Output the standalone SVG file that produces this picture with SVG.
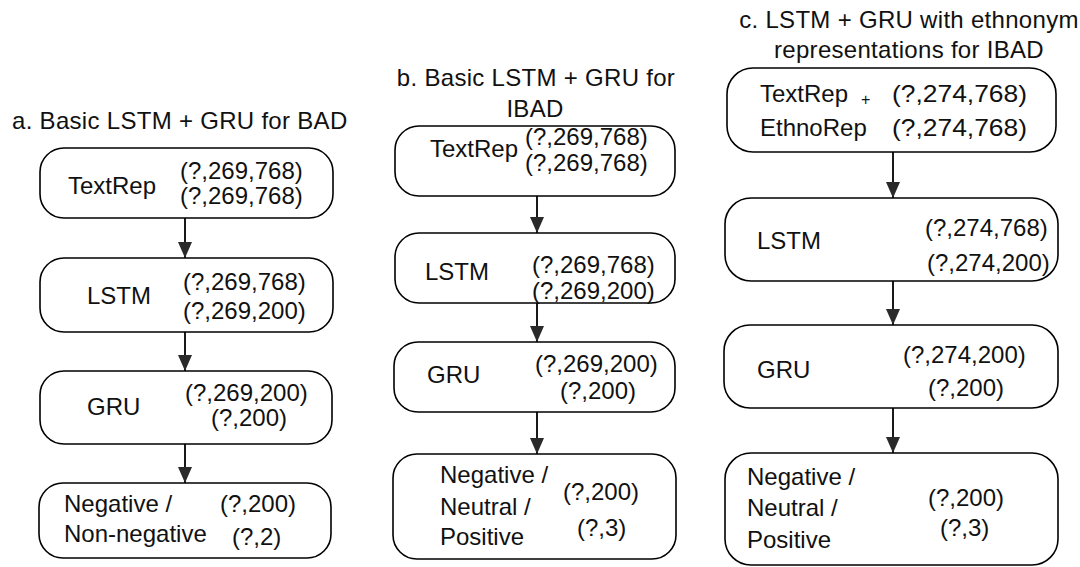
<svg xmlns="http://www.w3.org/2000/svg" width="1080" height="567" viewBox="0 0 1080 567">
<defs>
<style>
.box{fill:#fff;stroke:#000;stroke-width:1.6}
.t{font-family:"Liberation Sans",Arial,sans-serif;font-size:24px;fill:#111}
.h{font-family:"Liberation Sans",Arial,sans-serif;font-size:24px;fill:#111;letter-spacing:0.3px}
.s{font-family:"Liberation Sans",Arial,sans-serif;font-size:16px;fill:#111}
.c{stroke:#000;stroke-width:1.8;fill:none}
</style>
<marker id="ah" markerUnits="userSpaceOnUse" markerWidth="16" markerHeight="14" viewBox="0 0 16 14" refX="16" refY="7" orient="auto">
<path d="M0,0 L16,7 L0,14 Z" fill="#2a2a2a"/>
</marker>
</defs>
<rect width="1080" height="567" fill="#fff"/>

<g id="titles">
<text class="h" x="12" y="129">a. Basic LSTM + GRU for BAD</text>
<text class="h" x="536" y="86" text-anchor="middle">b. Basic LSTM + GRU for</text>
<text class="h" x="535" y="117" text-anchor="middle">IBAD</text>
<text class="h" x="909" y="28" text-anchor="middle">c. LSTM + GRU with ethnonym</text>
<text class="h" x="909" y="58" text-anchor="middle">representations for IBAD</text>
</g>

<g id="connectors">
<line class="c" x1="185" y1="218" x2="185" y2="258" marker-end="url(#ah)"/>
<line class="c" x1="185" y1="332" x2="185" y2="371" marker-end="url(#ah)"/>
<line class="c" x1="185" y1="444" x2="185" y2="483" marker-end="url(#ah)"/>
<line class="c" x1="537" y1="196" x2="537" y2="233" marker-end="url(#ah)"/>
<line class="c" x1="537" y1="303" x2="537" y2="342" marker-end="url(#ah)"/>
<line class="c" x1="537" y1="412" x2="537" y2="454" marker-end="url(#ah)"/>
<line class="c" x1="893" y1="152" x2="893" y2="198" marker-end="url(#ah)"/>
<line class="c" x1="893" y1="281" x2="893" y2="325" marker-end="url(#ah)"/>
<line class="c" x1="893" y1="408" x2="893" y2="453" marker-end="url(#ah)"/>
</g>

<g id="a1">
<rect class="box" x="40" y="148" width="293" height="70" rx="24"/>
<text class="t" x="68" y="194">TextRep</text>
<text class="t" x="180" y="179">(?,269,768)</text>
<text class="t" x="180" y="204">(?,269,768)</text>
</g>
<g id="a2">
<rect class="box" x="40" y="258" width="293" height="74" rx="24"/>
<text class="t" x="87" y="304">LSTM</text>
<text class="t" x="183" y="290">(?,269,768)</text>
<text class="t" x="183" y="319">(?,269,200)</text>
</g>
<g id="a3">
<rect class="box" x="40" y="371" width="292" height="73" rx="24"/>
<text class="t" x="87" y="415">GRU</text>
<text class="t" x="185" y="401">(?,269,200)</text>
<text class="t" x="211" y="426">(?,200)</text>
</g>
<g id="a4">
<rect class="box" x="39" y="483" width="292" height="75" rx="24"/>
<text class="t" x="64" y="512">Negative /</text>
<text class="t" x="64" y="542">Non-negative</text>
<text class="t" x="220" y="512">(?,200)</text>
<text class="t" x="232" y="545">(?,2)</text>
</g>

<g id="b1">
<rect class="box" x="395" y="126" width="280" height="70" rx="24"/>
<text class="t" x="430" y="157">TextRep</text>
<text class="t" x="525" y="145">(?,269,768)</text>
<text class="t" x="525" y="171">(?,269,768)</text>
</g>
<g id="b2">
<rect class="box" x="395" y="233" width="280" height="70" rx="24"/>
<text class="t" x="425" y="280">LSTM</text>
<text class="t" x="532" y="273">(?,269,768)</text>
<text class="t" x="532" y="299">(?,269,200)</text>
</g>
<g id="b3">
<rect class="box" x="394" y="342" width="281" height="70" rx="24"/>
<text class="t" x="427" y="383">GRU</text>
<text class="t" x="535" y="372">(?,269,200)</text>
<text class="t" x="560" y="399">(?,200)</text>
</g>
<g id="b4">
<rect class="box" x="393" y="454" width="283" height="105" rx="24"/>
<text class="t" x="440" y="483">Negative /</text>
<text class="t" x="440" y="515">Neutral /</text>
<text class="t" x="440" y="545">Positive</text>
<text class="t" x="563" y="500">(?,200)</text>
<text class="t" x="577" y="536">(?,3)</text>
</g>

<g id="c1">
<rect class="box" x="727" y="68" width="329" height="84" rx="26"/>
<text class="t" x="760" y="102">TextRep</text>
<text class="s" x="861" y="105">+</text>
<text class="t" x="760" y="136">EthnoRep</text>
<text class="t" x="892" y="102" textLength="135" lengthAdjust="spacingAndGlyphs">(?,274,768)</text>
<text class="t" x="892" y="136" textLength="135" lengthAdjust="spacingAndGlyphs">(?,274,768)</text>
</g>
<g id="c2">
<rect class="box" x="725" y="198" width="333" height="83" rx="26"/>
<text class="t" x="757" y="249">LSTM</text>
<text class="t" x="925" y="236">(?,274,768)</text>
<text class="t" x="927" y="271">(?,274,200)</text>
</g>
<g id="c3">
<rect class="box" x="724" y="325" width="334" height="83" rx="26"/>
<text class="t" x="757" y="378">GRU</text>
<text class="t" x="903" y="363">(?,274,200)</text>
<text class="t" x="928" y="396">(?,200)</text>
</g>
<g id="c4">
<rect class="box" x="725" y="453" width="333" height="112" rx="26"/>
<text class="t" x="747" y="485">Negative /</text>
<text class="t" x="747" y="516">Neutral /</text>
<text class="t" x="747" y="548">Positive</text>
<text class="t" x="928" y="506">(?,200)</text>
<text class="t" x="940" y="536">(?,3)</text>
</g>
</svg>
